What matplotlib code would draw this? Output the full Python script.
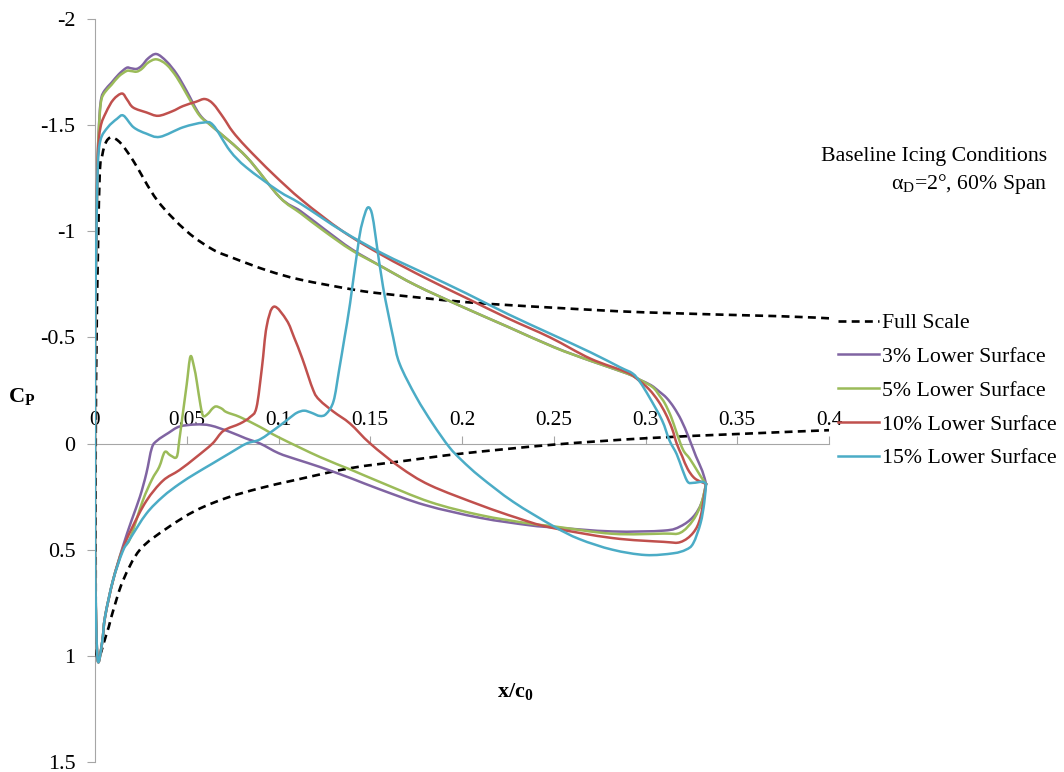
import matplotlib
matplotlib.use("Agg")
import matplotlib.pyplot as plt
from matplotlib.path import Path
from matplotlib.patches import PathPatch
from matplotlib.lines import Line2D

plt.rcParams['font.family'] = ['Liberation Serif', 'DejaVu Serif']
plt.rcParams['mathtext.fontset'] = 'custom'
plt.rcParams['mathtext.rm'] = 'Liberation Serif'
plt.rcParams['mathtext.it'] = 'Liberation Serif:italic'
plt.rcParams['mathtext.bf'] = 'Liberation Serif:bold'
plt.rcParams['axes.unicode_minus'] = False

# pressure distributions, each traced trailing edge -> upper surface -> leading edge -> lower surface -> trailing edge
full_x = [0.4, 0.373, 0.3, 0.25, 0.2025, 0.157, 0.141, 0.112, 0.094, 0.075, 0.064, 0.05, 0.034,
          0.021, 0.014, 0.009, 0.006, 0.004, 0.0025, 0.001, 0.0004, 0.0004, 0.001,
          0.0065, 0.0098, 0.0153, 0.0245, 0.039, 0.055, 0.072, 0.09, 0.11, 0.139, 0.17, 0.2, 0.25,
          0.3, 0.35, 0.4]
full_cp = [-0.59, -0.60, -0.618, -0.64, -0.666, -0.706, -0.725, -0.772, -0.815, -0.875, -0.915, -1.0, -1.145,
           -1.33, -1.415, -1.442, -1.42, -1.36, -1.25, -0.6, 0.0, 0.6, 1.0,
           0.89, 0.79, 0.645, 0.50, 0.40, 0.315, 0.255, 0.21, 0.17, 0.116, 0.08, 0.047, 0.005,
           -0.025, -0.045, -0.063]

p3_x = [0.333, 0.331, 0.3275, 0.3235, 0.3195, 0.3155, 0.3115, 0.3075, 0.303, 0.297, 0.29, 0.27, 0.25,
        0.225, 0.2, 0.175, 0.157, 0.14, 0.125, 0.112, 0.1007, 0.0826, 0.0644, 0.057, 0.05, 0.0446,
        0.039, 0.0335, 0.029, 0.0255, 0.0227, 0.0195, 0.0172, 0.013, 0.009, 0.0054, 0.0035, 0.0025,
        0.0015, 0.0008, 0.0, 0.0, 0.0, 0.0008, 0.0018,
        0.004, 0.0055, 0.0098, 0.015, 0.02, 0.0245, 0.028, 0.031, 0.034, 0.04, 0.046, 0.055, 0.063,
        0.0735, 0.082, 0.09, 0.1, 0.11, 0.1225, 0.14, 0.155, 0.18, 0.21, 0.237, 0.25, 0.282, 0.31,
        0.319, 0.326, 0.3305, 0.333]
p3_cp = [0.19, 0.13, 0.06, -0.03, -0.11, -0.17, -0.215, -0.245, -0.275, -0.30, -0.33, -0.39, -0.455,
         -0.55, -0.645, -0.745, -0.83, -0.915, -1.01, -1.095, -1.16, -1.35, -1.49, -1.55, -1.66, -1.74,
         -1.80, -1.835, -1.815, -1.78, -1.765, -1.768, -1.77, -1.74, -1.70, -1.665, -1.63, -1.55,
         -1.35, -1.0, -0.5, 0.0, 0.5, 0.9, 1.03,
         0.93, 0.815, 0.645, 0.49, 0.36, 0.25, 0.14, 0.02, -0.015, -0.05, -0.08, -0.09, -0.085,
         -0.055, -0.025, 0.0, 0.045, 0.075, 0.11, 0.165, 0.215, 0.29, 0.35, 0.385, 0.395, 0.414, 0.41,
         0.39, 0.345, 0.28, 0.19]

p5_x = [0.333, 0.3305, 0.328, 0.324, 0.3205, 0.317, 0.314, 0.3105, 0.3077, 0.304, 0.297, 0.29, 0.27,
        0.25, 0.225, 0.2, 0.175, 0.157, 0.14, 0.125, 0.112, 0.1007, 0.0826, 0.0644, 0.057, 0.05,
        0.0446, 0.039, 0.0335, 0.029, 0.0255, 0.0227, 0.0195, 0.0172, 0.013, 0.009, 0.0054, 0.0035,
        0.0025, 0.0015, 0.0008, 0.0, 0.0, 0.0, 0.0008, 0.0018,
        0.004, 0.0055, 0.0098, 0.015, 0.019, 0.026, 0.031, 0.035, 0.038, 0.041, 0.0445, 0.046, 0.048,
        0.05, 0.052, 0.054, 0.0555, 0.0575, 0.059, 0.0615, 0.064, 0.066, 0.069, 0.0717, 0.079, 0.09,
        0.1, 0.1225, 0.14, 0.155, 0.1825, 0.21, 0.237, 0.25, 0.282, 0.31, 0.319, 0.326, 0.3305, 0.333]
p5_cp = [0.19, 0.16, 0.125, 0.07, 0.03, -0.05, -0.125, -0.19, -0.225, -0.265, -0.30, -0.33, -0.39,
         -0.454, -0.55, -0.645, -0.745, -0.83, -0.91, -1.0, -1.085, -1.16, -1.35, -1.49, -1.545, -1.645,
         -1.725, -1.785, -1.81, -1.795, -1.765, -1.752, -1.755, -1.755, -1.73, -1.69, -1.655, -1.62,
         -1.54, -1.35, -1.0, -0.5, 0.0, 0.5, 0.9, 1.03,
         0.93, 0.815, 0.645, 0.5, 0.45, 0.27, 0.17, 0.11, 0.04, 0.055, 0.063, -0.02, -0.15,
         -0.28, -0.41, -0.36, -0.29, -0.18, -0.13, -0.14, -0.165, -0.175, -0.165, -0.148, -0.125, -0.078,
         -0.03, 0.063, 0.125, 0.18, 0.275, 0.337, 0.377, 0.39, 0.425, 0.424, 0.42, 0.36, 0.28, 0.19]

p10_x = [0.333, 0.327, 0.323, 0.32, 0.317, 0.3145, 0.311, 0.307, 0.302, 0.296, 0.29, 0.27, 0.248,
         0.225, 0.2025, 0.18, 0.157, 0.135, 0.113, 0.097, 0.0826, 0.075, 0.07, 0.0644, 0.0599, 0.055,
         0.048, 0.042, 0.0344, 0.028, 0.0208, 0.0175, 0.0147, 0.01, 0.006, 0.003, 0.0015, 0.0008,
         0.0, 0.0, 0.0, 0.0008, 0.0018,
         0.004, 0.0055, 0.0098, 0.015, 0.02, 0.028, 0.037, 0.046, 0.055, 0.064, 0.07, 0.079, 0.0845,
         0.088, 0.091, 0.0935, 0.0975, 0.1045, 0.1085, 0.113, 0.119, 0.1225, 0.13, 0.139, 0.15, 0.166,
         0.1825, 0.21, 0.23, 0.248, 0.282, 0.31, 0.319, 0.326, 0.33, 0.333]
p10_cp = [0.19, 0.165, 0.12, 0.06, 0.0, -0.07, -0.14, -0.20, -0.255, -0.30, -0.335, -0.40, -0.50,
          -0.59, -0.685, -0.78, -0.885, -1.0, -1.145, -1.27, -1.395, -1.47, -1.535, -1.60, -1.623, -1.61,
          -1.59, -1.565, -1.544, -1.56, -1.583, -1.62, -1.649, -1.62, -1.56, -1.49, -1.35, -1.0,
          -0.5, 0.0, 0.5, 0.9, 1.03,
          0.93, 0.815, 0.645, 0.50, 0.40, 0.27, 0.175, 0.125, 0.065, 0.0, -0.06, -0.094, -0.125,
          -0.17, -0.36, -0.55, -0.645, -0.58, -0.50, -0.40, -0.25, -0.204, -0.15, -0.094, 0.0, 0.11,
          0.196, 0.29, 0.35, 0.395, 0.445, 0.463, 0.464, 0.42, 0.345, 0.19]

p15_x = [0.333, 0.331, 0.326, 0.323, 0.32, 0.317, 0.313, 0.309, 0.302, 0.297, 0.293, 0.286, 0.27,
         0.248, 0.225, 0.2025, 0.18, 0.157, 0.135, 0.112, 0.1, 0.0826, 0.0735, 0.0644, 0.059, 0.048,
         0.0354, 0.028, 0.021, 0.0155, 0.012, 0.007, 0.003, 0.0015, 0.0008, 0.0, 0.0, 0.0, 0.0008,
         0.0018,
         0.004, 0.0055, 0.0098, 0.015, 0.019, 0.028, 0.037, 0.046, 0.055, 0.064, 0.0735, 0.0825, 0.09,
         0.1, 0.106, 0.11, 0.114, 0.118, 0.1225, 0.126, 0.13, 0.133, 0.136, 0.139, 0.144, 0.147, 0.149,
         0.151, 0.153, 0.157, 0.1625, 0.166, 0.175, 0.184, 0.193, 0.2, 0.21, 0.228, 0.25, 0.264, 0.282,
         0.3, 0.315, 0.322, 0.326, 0.33, 0.332, 0.333]
p15_cp = [0.19, 0.18, 0.185, 0.18, 0.12, 0.05, -0.016, -0.11, -0.22, -0.29, -0.33, -0.36, -0.43,
          -0.518, -0.61, -0.707, -0.80, -0.894, -1.0, -1.13, -1.19, -1.30, -1.38, -1.50, -1.512, -1.49,
          -1.445, -1.46, -1.49, -1.545, -1.53, -1.49, -1.43, -1.30, -1.0, -0.5, 0.0, 0.5, 0.9,
          1.03,
          0.93, 0.815, 0.645, 0.51, 0.45, 0.33, 0.25, 0.19, 0.14, 0.094, 0.045, 0.0, -0.02,
          -0.08, -0.12, -0.145, -0.155, -0.145, -0.13, -0.14, -0.20, -0.345, -0.50, -0.66, -0.97, -1.08, -1.113,
          -1.08, -0.97, -0.737, -0.50, -0.376, -0.22, -0.094, 0.016, 0.08, 0.157, 0.275, 0.39, 0.45, 0.50,
          0.525, 0.517, 0.50, 0.47, 0.375, 0.28, 0.19]

series_labels = ['Full Scale', '3% Lower Surface', '5% Lower Surface',
                 '10% Lower Surface', '15% Lower Surface']
series_colors = ['black', '#8064A2', '#9BBB59', '#C0504D', '#4BACC6']

x_ticks = [0, 0.05, 0.1, 0.15, 0.2, 0.25, 0.3, 0.35, 0.4]
x_tick_labels = ['0', '0.05', '0.1', '0.15', '0.2', '0.25', '0.3', '0.35', '0.4']
y_ticks = [-2, -1.5, -1, -0.5, 0, 0.5, 1, 1.5]
y_tick_labels = ['-2', '-1.5', '-1', '-0.5', '0', '0.5', '1', '1.5']


def smooth_path(xs, ys):
    # spreadsheet-style smoothed line: cubic Bezier segments through every point
    pts = list(zip(xs, ys))
    n = len(pts)
    verts = [pts[0]]
    codes = [Path.MOVETO]
    for i in range(n - 1):
        p0 = pts[i - 1] if i > 0 else pts[i]
        p1 = pts[i]
        p2 = pts[i + 1]
        p3 = pts[i + 2] if i + 2 < n else pts[i + 1]
        c1 = (p1[0] + (p2[0] - p0[0]) / 6, p1[1] + (p2[1] - p0[1]) / 6)
        c2 = (p2[0] - (p3[0] - p1[0]) / 6, p2[1] - (p3[1] - p1[1]) / 6)
        verts += [c1, c2, p2]
        codes += [Path.CURVE4] * 3
    return Path(verts, codes)


fig = plt.figure(figsize=(10.64, 7.72), dpi=100)
ax = fig.add_axes([95 / 1064, 10 / 772, 734 / 1064, 743 / 772])

data = [(full_x, full_cp), (p3_x, p3_cp), (p5_x, p5_cp), (p10_x, p10_cp), (p15_x, p15_cp)]
handles = []
for (xs, cps), lab, col in zip(data, series_labels, series_colors):
    if lab == 'Full Scale':
        style = dict(lw=1.9, linestyle=(0, (3, 2)), capstyle='butt')
        z = 3
    else:
        style = dict(lw=1.8, linestyle='-', capstyle='round', joinstyle='round')
        z = 4
    ax.add_patch(PathPatch(smooth_path(xs, cps), fill=False, edgecolor=col, zorder=z, **style))
    handles.append(Line2D([], [], color=col, lw=style['lw'], linestyle=style['linestyle']))

ax.set_xlim(0, 0.4)
ax.set_ylim(1.5, -2)

gray = '#A6A6A6'
ax.spines['right'].set_visible(False)
ax.spines['bottom'].set_visible(False)
ax.spines['top'].set_position(('data', 0))
ax.spines['top'].set_color(gray)
ax.spines['left'].set_color(gray)

ax.xaxis.set_ticks_position('top')
ax.set_xticks(x_ticks)
ax.set_xticklabels(x_tick_labels)
ax.tick_params(axis='x', direction='out', length=6, color=gray, labelsize=15.3, pad=4)
ax.set_yticks(y_ticks)
ax.set_yticklabels(y_tick_labels)
ax.tick_params(axis='y', direction='out', length=6, color=gray, labelsize=15.8, pad=8)

fig.text(22 / 1064, 1 - 396 / 772, r'$\mathbf{C_P}$', fontsize=16, ha='center', va='center')
fig.text(515 / 1064, 1 - 692 / 772, r'$\mathbf{x/c_0}$', fontsize=16, ha='center', va='center')

fig.text(1047 / 1064, 1 - 157 / 772, 'Baseline Icing Conditions', fontsize=15.7,
         ha='right', va='center')
fig.text(1047 / 1064, 1 - 184 / 772, r'α$_{\mathrm{D}}$=2°, 60% Span', fontsize=15.7,
         ha='right', va='center')

fig.legend(handles=handles, labels=series_labels, loc='upper left',
           bbox_to_anchor=(838 / 1064, 1 - 313 / 772), frameon=False, fontsize=15.7,
           handlelength=1.9, handletextpad=0.1, labelspacing=0.62, borderpad=0,
           borderaxespad=0)

fig.savefig('out.png', dpi=100)
